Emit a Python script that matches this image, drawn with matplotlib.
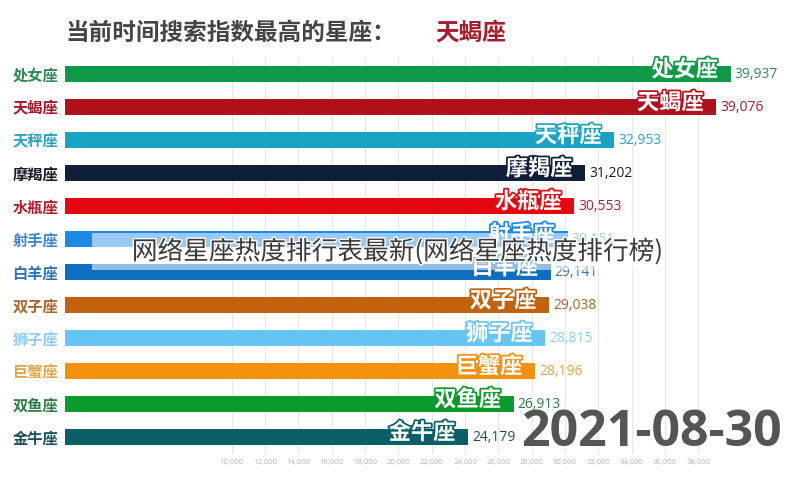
"""星座搜索指数排行（条形图竞赛的一帧）。"""

import matplotlib.pyplot as plt
import matplotlib.patheffects as pe
from matplotlib.patches import Rectangle

signs = ['处女座', '天蝎座', '天秤座', '摩羯座', '水瓶座', '射手座',
         '白羊座', '双子座', '狮子座', '巨蟹座', '双鱼座', '金牛座']
values = [39937, 39076, 32953, 31202, 30553, 30151,
          29141, 29038, 28815, 28196, 26913, 24179]
bar_colors = ['#0f9a48', '#b0121c', '#1aa2c2', '#0f1f3a', '#e6080f', '#1e88e5',
              '#0e6fbf', '#c2620e', '#66c5f2', '#f3900f', '#0b9a2c', '#0a5e66']
label_colors = ['#2e8b52', '#a3182a', '#2aa3c0', '#1a1a2a', '#b81c2a', '#3a86c8',
                '#2f73b5', '#a8642a', '#8fcdf0', '#e3a54a', '#2e7d45', '#1d4f5a']
ticks = list(range(10000, 40000, 2000))

title = '当前时间搜索指数最高的星座：'
leader = '天蝎座'
date = '2021-08-30'
watermark = '网络星座热度排行表最新(网络星座热度排行榜)'

CJK = ['Noto Sans CJK SC', 'DejaVu Sans']
plt.rcParams['font.family'] = CJK

W, H = 790, 490
fig = plt.figure(figsize=(W / 100, H / 100), dpi=100)
ax = fig.add_axes([65 / W, 1 - 453.5 / H, 715 / W, 396 / H])

pos = range(len(signs))
ax.barh(pos, values, height=0.5, color=bar_colors, zorder=2)
ax.set_xlim(0, 42900)
ax.set_ylim(len(signs) - 0.5, -0.5)

ax.set_yticks(list(pos))
ax.set_yticklabels(signs, fontsize=11, fontweight='bold')
for lab, c in zip(ax.get_yticklabels(), label_colors):
    lab.set_color(c)
ax.tick_params(axis='y', length=0, pad=5)

ax.set_xticks(ticks)
ax.set_xticklabels([f'{t:,}' for t in ticks], fontsize=5.5, color='#b5b5b5',
                   family='Open Sans')
ax.tick_params(axis='x', length=0, pad=4)
ax.grid(axis='x', color='#e6e6e6', lw=0.8, zorder=0)
for s in ax.spines.values():
    s.set_visible(False)

for i, (name, v) in enumerate(zip(signs, values)):
    ax.annotate(name, (v, i), xytext=(-9, 3), textcoords='offset points',
                ha='right', va='center', fontsize=16, fontweight='bold',
                color='white', zorder=4,
                path_effects=[pe.withStroke(linewidth=2.5, foreground=bar_colors[i])])
    ax.annotate(f'{v:,}', (v, i), xytext=(3, 0), textcoords='offset points',
                ha='left', va='center', fontsize=10, color=label_colors[i],
                family=['Open Sans', 'DejaVu Sans'], zorder=4)

fig.text(65 / W, 1 - 33 / H, title, fontsize=17, fontweight='bold',
         color='#454545', va='center', ha='left')
fig.text(435 / W, 1 - 33 / H, leader, fontsize=17, fontweight='bold',
         color='#a51d2d', va='center', ha='left')
fig.text(782 / W, 1 - 433 / H, date, fontsize=36, fontweight='bold',
         color='#555555', va='center', ha='right',
         family=['Open Sans', 'DejaVu Sans'])

# 水印：半透明白色条 + 文字
fig.patches.append(Rectangle((92 / W, 1 - 270 / H), 573 / W, 37 / H,
                             transform=fig.transFigure, facecolor='white',
                             alpha=0.55, edgecolor='none', zorder=5))
fig.text(398 / W, 1 - 252 / H, watermark, fontsize=18.5, color='#3a3a3a',
         va='center', ha='center', zorder=6,
         path_effects=[pe.withStroke(linewidth=2, foreground='white')])

fig.savefig('out.png', dpi=100)
